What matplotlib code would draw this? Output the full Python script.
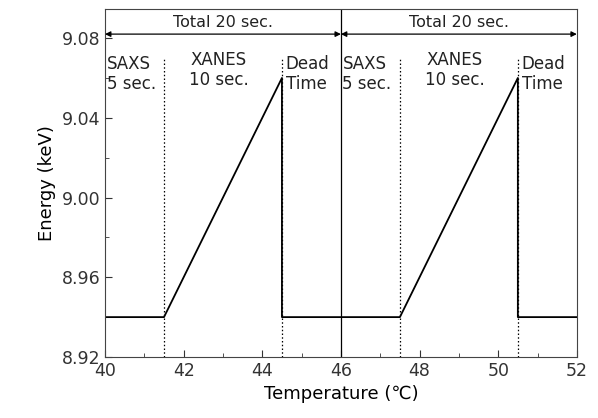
import numpy as np
import matplotlib.pyplot as plt

# energy profile (two 20 s cycles)
temp = [40, 41.5, 44.5, 44.5, 47.5, 50.5, 50.5, 52]
energy = [8.94, 8.94, 9.06, 8.94, 8.94, 9.06, 8.94, 8.94]

# phase boundaries
dotted_x = [41.5, 44.5, 47.5, 50.5]
cycle_x = [40, 46, 52]

fig = plt.figure(figsize=(5.98, 4.18), dpi=100)
ax = fig.add_axes([0.1756, 0.146, 0.789, 0.832])

ax.plot(temp, energy, color='black', linewidth=1.3)

for xv in dotted_x:
    ax.plot([xv, xv], [8.92, 9.0705], color='black', linestyle=(0, (1.2, 1.8)), linewidth=0.9)
ax.axvline(46, color='black', linewidth=0.9)

# arrows "Total 20 sec."
for i in range(len(cycle_x) - 1):
    ax.annotate('', xy=(cycle_x[i + 1], 9.082), xytext=(cycle_x[i], 9.082),
                arrowprops=dict(arrowstyle='<|-|>', color='black', lw=0.9,
                                mutation_scale=8, shrinkA=0, shrinkB=0))
    mid = (cycle_x[i] + cycle_x[i + 1]) / 2
    ax.text(mid, 9.0878, 'Total 20 sec.', ha='center', va='center', fontsize=11.5, color='#222222')

for x0 in [40, 46]:
    ax.text(x0 + 0.04, 9.062, 'SAXS\n5 sec.', ha='left', va='center', fontsize=12, linespacing=1.2, color='#222222')
    ax.text(x0 + 2.9, 9.064, 'XANES\n10 sec.', ha='center', va='center', fontsize=12, linespacing=1.2, color='#222222')
    ax.text(x0 + 4.6, 9.062, 'Dead\nTime', ha='left', va='center', fontsize=12, linespacing=1.2, color='#222222')

ax.set_xlim(40, 52)
ax.set_ylim(8.92, 9.0945)
ax.set_xticks(np.arange(40, 53, 2))
ax.set_yticks([8.92, 8.96, 9.00, 9.04, 9.08])
ax.set_yticklabels(['8.92', '8.96', '9.00', '9.04', '9.08'])
ax.set_xticks(np.arange(41, 52, 2), minor=True)
ax.set_yticks([8.94, 8.98, 9.02, 9.06], minor=True)
ax.tick_params(direction='in', which='both', labelsize=12.5, colors='#333333')
ax.tick_params(which='major', length=5)
ax.tick_params(which='minor', length=3)
for s in ax.spines.values():
    s.set_color('#444444')

ax.set_xlabel('Temperature (\u2103)', fontsize=13)
ax.set_ylabel('Energy (keV)', fontsize=13)

fig.savefig('out.png', dpi=100)
